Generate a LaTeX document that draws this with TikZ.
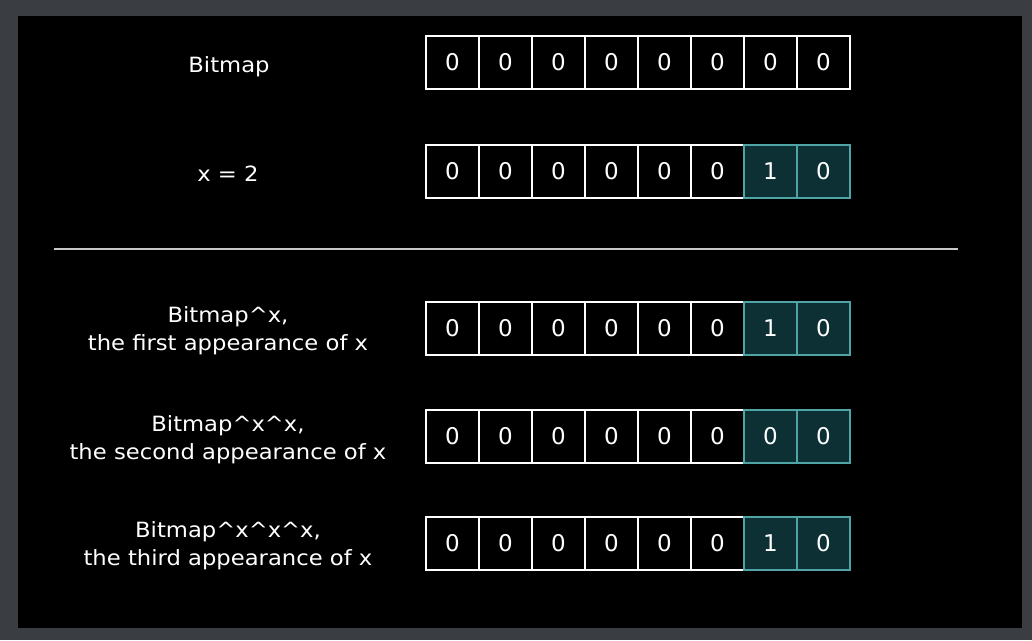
\documentclass[tikz,border=0pt]{standalone}
\usepackage{fontspec}
\setmainfont{DejaVu Sans}[FakeStretch=1.08]
\newfontfamily\digitfont{DejaVu Sans}
\definecolor{framegray}{HTML}{3A3D42}
\definecolor{tealfill}{HTML}{0C3033}
\definecolor{tealline}{HTML}{4FA5A5}
\definecolor{sepgray}{HTML}{C8C8C8}
\tikzset{
  cell/.style={draw=white, line width=2pt, fill=black, minimum width=53pt, minimum height=53pt, inner sep=0pt, text=white, font=\digitfont\fontsize{23}{24}\selectfont},
  hicell/.style={cell, draw=tealline, fill=tealfill},
  lbl/.style={text=white, align=center, font=\fontsize{21}{28}\selectfont}
}
\begin{document}
\begin{tikzpicture}[x=1pt,y=-1pt]
\fill[framegray] (0,0) rectangle (1032,640);
\fill[black] (18,16) rectangle (1022,628);
\useasboundingbox (0,0) rectangle (1032,640);
% rows
\foreach \r/\yy/\bits in {1/62/{0,0,0,0,0,0,0,0},2/171/{0,0,0,0,0,0,1,0},3/328/{0,0,0,0,0,0,1,0},4/436.5/{0,0,0,0,0,0,0,0},5/543/{0,0,0,0,0,0,1,0}}{
  \foreach \b [count=\c] in \bits {
    \ifnum\c<7
      \node[cell] (r\r c\c) at ({426+53*(\c-0.5)},\yy) {\b};
    \fi
  }
}
\foreach \r/\yy/\bits in {1/62/{0,0,0,0,0,0,0,0},2/171/{0,0,0,0,0,0,1,0},3/328/{0,0,0,0,0,0,1,0},4/436.5/{0,0,0,0,0,0,0,0},5/543/{0,0,0,0,0,0,1,0}}{
  \foreach \b [count=\c] in \bits {
    \ifnum\c>6
      \ifnum\r=1
        \node[cell] (r\r c\c) at ({426+53*(\c-0.5)},\yy) {\b};
      \else
        \node[hicell] (r\r c\c) at ({426+53*(\c-0.5)},\yy) {\b};
      \fi
    \fi
  }
}
% labels
\node[lbl] (l1) at (229,67) {Bitmap};
\node[lbl] (l2) at (228,174) {x = 2};
\node[lbl] (l3) at (228,331) {Bitmap\^{}x,\\the first appearance of x};
\node[lbl] (l4) at (228,440) {Bitmap\^{}x\^{}x,\\the second appearance of x};
\node[lbl] (l5) at (228,546) {Bitmap\^{}x\^{}x\^{}x,\\the third appearance of x};
% separator
\coordinate (sa) at (54,248.7);
\coordinate (sb) at (958,248.7);
\draw[sepgray, line width=1.6pt] (sa) -- (sb);
\end{tikzpicture}
\end{document}
